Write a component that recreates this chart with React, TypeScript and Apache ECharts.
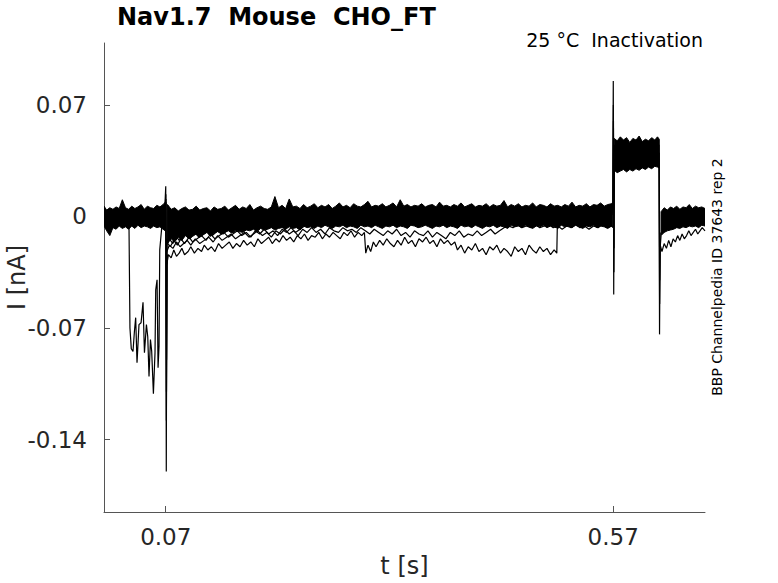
import React, { useEffect, useRef } from 'react';
import * as echarts from 'echarts';

// ---- axes ----
const X_MIN = 0.001;
const X_MAX = 0.6726;
const Y_MIN = -0.1855;
const Y_MAX = 0.1089;
const xTickValues = [0.07, 0.57];
const yTickValues = [-0.14, -0.07, 0, 0.07];

// ---- dense noise band: pre-pulse segment ----
const preT = [0.001, 0.004, 0.0075, 0.011, 0.0145, 0.018, 0.0215, 0.025, 0.0285, 0.032, 0.0355, 0.039, 0.0425, 0.046, 0.0495, 0.053, 0.0565, 0.06, 0.0635, 0.067, 0.0695];
const preUp = [0.0065, 0.004, 0.0055, 0.0045, 0.006, 0.005, 0.0105, 0.0055, 0.0045, 0.0065, 0.005, 0.006, 0.0075, 0.0045, 0.0065, 0.0055, 0.005, 0.007, 0.006, 0.0075, 0.009];
const preLo = [-0.006, -0.009, -0.012, -0.007, -0.008, -0.006, -0.0075, -0.0065, -0.008, -0.006, -0.0075, -0.0055, -0.007, -0.006, -0.0065, -0.0075, -0.006, -0.007, -0.0065, -0.008, -0.009];

// ---- dense noise band: conditioning segment ----
const midT = [
  0.072, 0.076, 0.08, 0.084, 0.088, 0.092, 0.096, 0.1, 0.104, 0.108,
  0.112, 0.116, 0.12, 0.124, 0.128, 0.132, 0.136, 0.14, 0.144, 0.148,
  0.152, 0.156, 0.16, 0.164, 0.168, 0.172, 0.176, 0.18, 0.184, 0.188,
  0.192, 0.196, 0.2, 0.204, 0.208, 0.212, 0.216, 0.22, 0.224, 0.228,
  0.232, 0.236, 0.24, 0.244, 0.248, 0.252, 0.256, 0.26, 0.264, 0.268,
  0.272, 0.276, 0.28, 0.284, 0.288, 0.292, 0.296, 0.3, 0.304, 0.308,
  0.312, 0.316, 0.32, 0.324, 0.328, 0.332, 0.336, 0.34, 0.344, 0.348,
  0.352, 0.356, 0.36, 0.364, 0.368, 0.372, 0.376, 0.38, 0.384, 0.388,
  0.392, 0.396, 0.4, 0.404, 0.408, 0.412, 0.416, 0.42, 0.424, 0.428,
  0.432, 0.436, 0.44, 0.444, 0.448, 0.452, 0.456, 0.46, 0.464, 0.468,
  0.472, 0.476, 0.48, 0.484, 0.488, 0.492, 0.496, 0.5, 0.504, 0.508,
  0.512, 0.516, 0.52, 0.524, 0.528, 0.532, 0.536, 0.54, 0.544, 0.548,
  0.552, 0.556, 0.56, 0.564, 0.568, 0.5695,
];
const midUp = [
  0.0075, 0.0045, 0.0055, 0.0035, 0.005, 0.006, 0.004, 0.0045, 0.0065, 0.004,
  0.005, 0.0055, 0.0035, 0.006, 0.0045, 0.005, 0.0065, 0.004, 0.0055, 0.007,
  0.0045, 0.006, 0.005, 0.0075, 0.004, 0.0055, 0.0065, 0.005, 0.0045, 0.006,
  0.0125, 0.0055, 0.007, 0.005, 0.011, 0.006, 0.0065, 0.005, 0.0075, 0.0055,
  0.0065, 0.008, 0.0055, 0.007, 0.006, 0.0075, 0.005, 0.0065, 0.0085, 0.006,
  0.007, 0.0055, 0.008, 0.0065, 0.006, 0.0075, 0.0095, 0.006, 0.007, 0.0065,
  0.008, 0.006, 0.007, 0.0085, 0.006, 0.0105, 0.0065, 0.0075, 0.006, 0.007,
  0.0065, 0.008, 0.006, 0.007, 0.0075, 0.006, 0.009, 0.0065, 0.007, 0.006,
  0.0075, 0.0065, 0.0085, 0.006, 0.007, 0.008, 0.006, 0.007, 0.0065, 0.008,
  0.006, 0.0075, 0.0065, 0.007, 0.01, 0.006, 0.0075, 0.0065, 0.008, 0.006,
  0.007, 0.0065, 0.0085, 0.006, 0.0075, 0.007, 0.006, 0.008, 0.0065, 0.007,
  0.006, 0.0075, 0.0065, 0.009, 0.006, 0.007, 0.0065, 0.008, 0.006, 0.0075,
  0.007, 0.0085, 0.0065, 0.0075, 0.008, 0.009,
];
const midLo = [
  -0.017, -0.014, -0.016, -0.013, -0.015, -0.012, -0.014, -0.0125, -0.011, -0.013,
  -0.0115, -0.01, -0.0125, -0.0105, -0.0095, -0.011, -0.01, -0.009, -0.0105, -0.0085,
  -0.0095, -0.01, -0.0085, -0.009, -0.008, -0.0095, -0.0075, -0.0085, -0.008, -0.007,
  -0.0085, -0.0075, -0.007, -0.008, -0.0065, -0.0075, -0.007, -0.0085, -0.006, -0.007,
  -0.0065, -0.0075, -0.006, -0.007, -0.0055, -0.0065, -0.0075, -0.006, -0.0065, -0.0055,
  -0.007, -0.006, -0.0065, -0.0075, -0.0055, -0.0065, -0.006, -0.007, -0.0055, -0.0065,
  -0.0075, -0.006, -0.0065, -0.0055, -0.007, -0.006, -0.0065, -0.0075, -0.0055, -0.006,
  -0.007, -0.0065, -0.0055, -0.0065, -0.0075, -0.006, -0.0065, -0.0055, -0.007, -0.006,
  -0.0065, -0.0075, -0.0055, -0.0065, -0.006, -0.007, -0.0055, -0.0065, -0.0075, -0.006,
  -0.0065, -0.0055, -0.007, -0.006, -0.0065, -0.0075, -0.0055, -0.0065, -0.006, -0.007,
  -0.0055, -0.0065, -0.0075, -0.006, -0.0065, -0.0055, -0.007, -0.006, -0.0065, -0.0075,
  -0.0055, -0.0065, -0.006, -0.007, -0.0055, -0.0065, -0.0075, -0.006, -0.0065, -0.0055,
  -0.007, -0.006, -0.0065, -0.0075, -0.006, -0.007,
];

// ---- test pulse plateau ----
const plT = [0.5712, 0.5745, 0.578, 0.5815, 0.585, 0.5885, 0.592, 0.5955, 0.599, 0.6025, 0.606, 0.6095, 0.613, 0.6165, 0.6195, 0.6215];
const plUp = [0.049, 0.0475, 0.05, 0.048, 0.0495, 0.0465, 0.049, 0.048, 0.0505, 0.047, 0.0485, 0.0475, 0.0495, 0.048, 0.05, 0.0485];
const plLo = [0.029, 0.0275, 0.0285, 0.0295, 0.028, 0.0295, 0.0285, 0.03, 0.029, 0.0305, 0.0295, 0.031, 0.03, 0.0315, 0.031, 0.0305];

// ---- after test pulse ----
const poT = [0.6235, 0.627, 0.6305, 0.634, 0.6375, 0.641, 0.6445, 0.648, 0.6515, 0.655, 0.6585, 0.662, 0.6655, 0.669, 0.6726];
const poUp = [0.003, 0.0055, 0.004, 0.006, 0.005, 0.0065, 0.0045, 0.006, 0.0055, 0.0075, 0.005, 0.0065, 0.0055, 0.006, 0.005];
const poLo = [-0.012, -0.01, -0.009, -0.0085, -0.008, -0.007, -0.0075, -0.0065, -0.007, -0.006, -0.0065, -0.006, -0.007, -0.0055, -0.006];

// ---- individual sweeps ----
const sweepA = [
  [0.027, -0.002], [0.0289, -0.004], [0.03, -0.07], [0.0315, -0.083], [0.0334, -0.0847], [0.035, -0.072],
  [0.0364, -0.0635], [0.0379, -0.0918], [0.0401, -0.0679], [0.0424, -0.0667], [0.0446, -0.0539], [0.0462, -0.0855],
  [0.0484, -0.0679], [0.0499, -0.0755], [0.0513, -0.1004], [0.0529, -0.0773], [0.0543, -0.0847], [0.0562, -0.1112],
  [0.058, -0.0855], [0.0588, -0.046], [0.0603, -0.0397], [0.0614, -0.0949], [0.0625, -0.0815], [0.0633, -0.0208],
  [0.0655, -0.007], [0.067, -0.002], [0.069, 0.003],
];
const sweepB = [
  [0.0712, -0.03], [0.073, -0.024], [0.076, -0.026], [0.079, -0.021], [0.082, -0.025], [0.085, -0.023], [0.088, -0.02],
  [0.091, -0.024], [0.095, -0.022], [0.098, -0.019], [0.102, -0.023], [0.106, -0.02], [0.11, -0.022], [0.113, -0.018],
  [0.117, -0.021], [0.121, -0.019], [0.125, -0.022], [0.129, -0.017], [0.133, -0.02], [0.137, -0.018], [0.141, -0.016],
  [0.145, -0.02], [0.149, -0.017], [0.153, -0.019], [0.157, -0.015], [0.161, -0.018], [0.165, -0.016], [0.169, -0.019],
  [0.173, -0.014], [0.177, -0.017], [0.181, -0.015], [0.185, -0.013], [0.189, -0.017], [0.193, -0.014], [0.197, -0.016],
  [0.201, -0.012], [0.205, -0.015], [0.209, -0.013], [0.213, -0.016], [0.217, -0.012], [0.221, -0.014], [0.225, -0.011],
  [0.229, -0.015], [0.233, -0.012], [0.237, -0.013], [0.241, -0.01], [0.245, -0.014], [0.249, -0.011], [0.253, -0.013],
  [0.257, -0.01], [0.261, -0.012], [0.265, -0.014], [0.269, -0.01], [0.273, -0.012], [0.277, -0.009], [0.281, -0.013],
  [0.285, -0.01], [0.289, -0.012], [0.292, -0.01], [0.2935, -0.023], [0.296, -0.018], [0.299, -0.022], [0.302, -0.016],
  [0.305, -0.019], [0.309, -0.015], [0.313, -0.018], [0.317, -0.014], [0.321, -0.017], [0.325, -0.019], [0.329, -0.015],
  [0.333, -0.018], [0.337, -0.013], [0.341, -0.017], [0.345, -0.015], [0.349, -0.019], [0.353, -0.014], [0.357, -0.016],
  [0.361, -0.013], [0.365, -0.017], [0.369, -0.015], [0.373, -0.019], [0.377, -0.014], [0.381, -0.017], [0.385, -0.015],
  [0.389, -0.018], [0.393, -0.016], [0.396, -0.021], [0.4, -0.018], [0.404, -0.023], [0.408, -0.019], [0.412, -0.021],
  [0.416, -0.017], [0.42, -0.022], [0.424, -0.02], [0.428, -0.024], [0.432, -0.019], [0.436, -0.021], [0.44, -0.018],
  [0.444, -0.023], [0.448, -0.02], [0.452, -0.022], [0.456, -0.025], [0.46, -0.019], [0.464, -0.022], [0.468, -0.02],
  [0.472, -0.024], [0.476, -0.018], [0.48, -0.021], [0.484, -0.023], [0.488, -0.019], [0.492, -0.022], [0.496, -0.02],
  [0.5, -0.024], [0.504, -0.021], [0.507, -0.023], [0.5075, -0.008], [0.511, -0.004], [0.514, -0.002],
];
const sweepC = [
  [0.0712, -0.022], [0.074, -0.018], [0.078, -0.02], [0.082, -0.016], [0.086, -0.019], [0.09, -0.017], [0.094, -0.015],
  [0.098, -0.018], [0.103, -0.014], [0.108, -0.017], [0.113, -0.015], [0.118, -0.013], [0.123, -0.016], [0.128, -0.012],
  [0.133, -0.015], [0.138, -0.013], [0.143, -0.011], [0.148, -0.014], [0.153, -0.012], [0.158, -0.01], [0.163, -0.013],
  [0.168, -0.011], [0.173, -0.009], [0.178, -0.012], [0.183, -0.01], [0.188, -0.013], [0.193, -0.009], [0.198, -0.011],
  [0.203, -0.008], [0.208, -0.011], [0.213, -0.009], [0.218, -0.012], [0.223, -0.008], [0.228, -0.01], [0.233, -0.007],
  [0.238, -0.01], [0.243, -0.008], [0.248, -0.011], [0.253, -0.007], [0.258, -0.009], [0.263, -0.01], [0.268, -0.007],
  [0.273, -0.009], [0.278, -0.008], [0.283, -0.01], [0.288, -0.007], [0.293, -0.009], [0.298, -0.011], [0.303, -0.008],
  [0.308, -0.01], [0.313, -0.012], [0.318, -0.009], [0.323, -0.011], [0.328, -0.008], [0.333, -0.012], [0.338, -0.01],
  [0.343, -0.013], [0.348, -0.009], [0.353, -0.011], [0.358, -0.012], [0.363, -0.009], [0.368, -0.013], [0.373, -0.01],
  [0.378, -0.012], [0.383, -0.014], [0.388, -0.01], [0.393, -0.012], [0.398, -0.009], [0.403, -0.013], [0.408, -0.011],
  [0.413, -0.012], [0.418, -0.009], [0.423, -0.012], [0.428, -0.01], [0.433, -0.008], [0.438, -0.011], [0.443, -0.009],
  [0.448, -0.007], [0.453, -0.006], [0.458, -0.007], [0.463, -0.005], [0.468, -0.007], [0.473, -0.006], [0.478, -0.007],
  [0.483, -0.005], [0.488, -0.007], [0.493, -0.006], [0.498, -0.005], [0.503, -0.007], [0.508, -0.006], [0.513, -0.008],
  [0.518, -0.006], [0.523, -0.007], [0.528, -0.005], [0.533, -0.007], [0.538, -0.006], [0.543, -0.008], [0.548, -0.006],
  [0.553, -0.007], [0.558, -0.005], [0.563, -0.007], [0.569, -0.006],
];
const sweepD = [
  [0.0712, -0.018], [0.074, -0.014], [0.078, -0.017], [0.081, -0.012], [0.085, -0.015], [0.089, -0.013], [0.093, -0.011],
  [0.097, -0.014], [0.102, -0.01], [0.107, -0.013], [0.112, -0.011], [0.117, -0.009], [0.122, -0.012], [0.128, -0.009],
  [0.134, -0.011], [0.14, -0.008], [0.146, -0.01], [0.152, -0.007], [0.158, -0.009], [0.165, -0.006], [0.172, -0.008],
  [0.178, -0.006],
];
const sweepE = [
  [0.0712, -0.016], [0.075, -0.019], [0.079, -0.015], [0.083, -0.018], [0.087, -0.014], [0.091, -0.017], [0.096, -0.013],
  [0.1, -0.016], [0.105, -0.014], [0.11, -0.012], [0.115, -0.015], [0.12, -0.011], [0.125, -0.014], [0.13, -0.012],
  [0.135, -0.01], [0.14, -0.013], [0.145, -0.011], [0.15, -0.009], [0.155, -0.012], [0.16, -0.01], [0.165, -0.013],
  [0.17, -0.009], [0.175, -0.011], [0.18, -0.008], [0.185, -0.011], [0.19, -0.009], [0.195, -0.012], [0.2, -0.008],
  [0.205, -0.01], [0.21, -0.007], [0.215, -0.01], [0.22, -0.008], [0.225, -0.006],
];
const sweepPost = [
  [0.6226, -0.018], [0.6245, -0.022], [0.627, -0.017], [0.6295, -0.02], [0.632, -0.015], [0.6345, -0.019], [0.637, -0.014],
  [0.6395, -0.016], [0.642, -0.012], [0.6445, -0.015], [0.647, -0.011], [0.6495, -0.014], [0.652, -0.012], [0.6545, -0.009],
  [0.657, -0.012], [0.6595, -0.01], [0.662, -0.008], [0.6645, -0.011], [0.667, -0.009], [0.6695, -0.007], [0.6726, -0.009],
];

// ---- capacitive transients ----
const spike07a = [[0.069, 0.006], [0.07, 0.019], [0.0706, -0.16], [0.0712, -0.03], [0.0718, -0.024]];
const spike07b = [[0.0692, 0.004], [0.0701, 0.014], [0.0707, -0.128], [0.0713, -0.024]];
const spike07c = [[0.0693, 0.003], [0.0702, 0.011], [0.0708, -0.11], [0.0714, -0.018]];
const spike07d = [[0.0694, 0.002], [0.0703, 0.009], [0.0709, -0.09], [0.0715, -0.014]];
const spike57a = [[0.5695, 0.002], [0.5701, 0.085], [0.5706, -0.049], [0.5711, 0.04], [0.5716, 0.045]];
const spike57b = [[0.5696, 0.003], [0.5702, 0.07], [0.5708, -0.035], [0.5713, 0.033]];
const spike57c = [[0.5697, 0.001], [0.5703, 0.06], [0.5709, -0.02], [0.5714, 0.036]];
const spike62a = [[0.6212, 0.045], [0.6218, -0.074], [0.6224, -0.02], [0.6235, -0.012]];
const spike62b = [[0.6213, 0.032], [0.6219, -0.055], [0.6225, -0.014]];
const spike62c = [[0.6214, 0.04], [0.622, -0.04], [0.6226, -0.01]];

const FONT = 'DejaVu Sans';
const TXT = '#262626';

export default function App() {
  const ref = useRef<HTMLDivElement>(null);
  useEffect(() => {
    const chart = echarts.init(ref.current!, null, { renderer: 'svg' });
    const bands = [
      { t: preT, up: preUp, lo: preLo },
      { t: midT, up: midUp, lo: midLo },
      { t: plT, up: plUp, lo: plLo },
      { t: poT, up: poUp, lo: poLo },
    ];
    const lineSeries = (data: number[][]) => ({
      type: 'line',
      data,
      showSymbol: false,
      symbol: 'none',
      silent: true,
      clip: true,
      lineStyle: { color: '#000', width: 1.2 },
    });
    const sweeps = [
      sweepA, sweepB, sweepC, sweepD, sweepE, sweepPost,
      spike07a, spike07b, spike07c, spike07d,
      spike57a, spike57b, spike57c,
      spike62a, spike62b, spike62c,
    ];
    const option: any = {
      animation: false,
      backgroundColor: '#fff',
      grid: { left: 104, top: 43, right: 73, bottom: 71, containLabel: false, outerBoundsMode: 'none' },
      xAxis: {
        type: 'value',
        min: X_MIN,
        max: X_MAX,
        name: 't [s]',
        nameLocation: 'middle',
        nameGap: 42,
        nameMoveOverlap: false,
        nameTextStyle: { fontFamily: FONT, fontSize: 24, color: TXT },
        axisLine: { onZero: false, lineStyle: { color: '#555', width: 1 } },
        axisTick: { inside: true, length: 6, customValues: xTickValues, lineStyle: { color: '#555' } },
        axisLabel: {
          customValues: xTickValues,
          fontFamily: FONT,
          fontSize: 23,
          color: TXT,
          margin: 13,
          formatter: (v: number) => String(v),
        },
        splitLine: { show: false },
      },
      yAxis: {
        type: 'value',
        min: Y_MIN,
        max: Y_MAX,
        name: 'I [nA]',
        nameLocation: 'middle',
        nameGap: 75,
        nameMoveOverlap: false,
        nameTextStyle: { fontFamily: FONT, fontSize: 24, color: TXT },
        axisLine: { onZero: false, lineStyle: { color: '#555', width: 1 } },
        axisTick: { inside: true, length: 6, customValues: yTickValues, lineStyle: { color: '#555' } },
        axisLabel: {
          customValues: yTickValues,
          fontFamily: FONT,
          fontSize: 23,
          color: TXT,
          margin: 17,
          formatter: (v: number) => (v === 0 ? '0' : String(v)),
        },
        splitLine: { show: false },
      },
      graphic: [
        {
          type: 'text',
          left: 117,
          top: 5,
          style: { text: 'Nav1.7  Mouse  CHO_FT', font: `bold 24px "${FONT}"`, fill: '#000' },
        },
        {
          type: 'text',
          right: 75,
          top: 30,
          style: { text: '25 °C  Inactivation', font: `19px "${FONT}"`, fill: '#000' },
        },
        {
          type: 'text',
          x: 717,
          y: 277,
          rotation: Math.PI / 2,
          style: {
            text: 'BBP Channelpedia ID 37643 rep 2',
            font: `14px "${FONT}"`,
            fill: '#000',
            align: 'center',
            verticalAlign: 'middle',
          },
        },
      ],
      series: [
        {
          type: 'custom',
          coordinateSystem: 'cartesian2d',
          silent: true,
          clip: true,
          data: bands.map((b) => [b.t[0], 0]),
          renderItem: (params: any, api: any) => {
            const b = bands[params.dataIndex];
            const pts: number[][] = [];
            for (let k = 0; k < b.t.length; k++) pts.push(api.coord([b.t[k], b.up[k]]));
            for (let k = b.t.length - 1; k >= 0; k--) pts.push(api.coord([b.t[k], b.lo[k]]));
            return {
              type: 'polygon',
              shape: { points: pts },
              style: { fill: '#000', stroke: '#000', lineWidth: 1 },
            };
          },
        },
        ...sweeps.map(lineSeries),
      ],
    };
    chart.setOption(option);
    return () => chart.dispose();
  }, []);
  return (
    <div
      ref={ref}
      style={{ position: 'fixed', left: 0, top: 0, width: 778, height: 583, background: '#fff' }}
    />
  );
}
